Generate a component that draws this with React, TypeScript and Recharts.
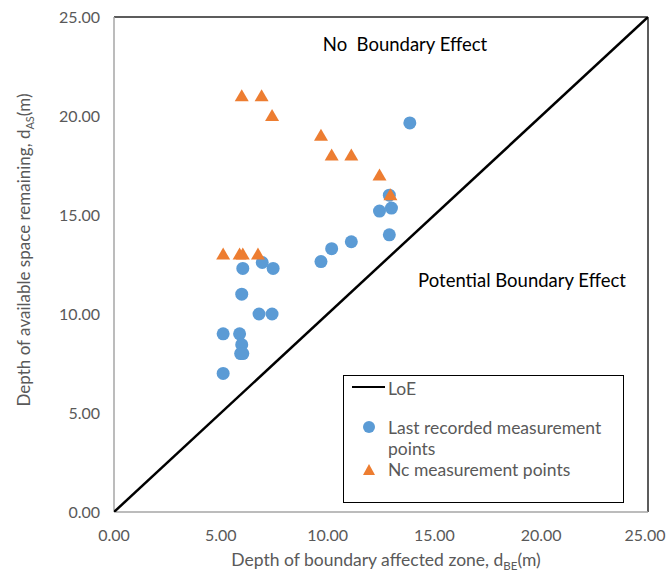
import React from 'react';
import { ScatterChart, Scatter, XAxis, YAxis, ReferenceLine, Legend } from 'recharts';

const loeX = [0, 25];
const loeY = [0, 25];

const lastX = [5.11, 5.11, 5.88, 5.98, 5.93, 6.03, 5.98, 6.79, 7.4, 6.03, 6.94, 7.45, 9.69, 10.19, 11.11, 12.89, 12.43, 12.99, 12.89, 13.85];
const lastY = [7.0, 9.0, 9.0, 8.45, 8.0, 8.0, 11.0, 10.0, 10.0, 12.3, 12.6, 12.3, 12.65, 13.3, 13.65, 14.0, 15.2, 15.35, 16.0, 19.65];

const ncX = [5.98, 6.91, 7.4, 9.69, 10.19, 11.11, 12.43, 12.94, 5.11, 5.88, 6.03, 6.74];
const ncY = [21.0, 21.0, 20.0, 19.0, 18.0, 18.0, 17.0, 16.0, 13.0, 13.0, 13.0, 13.0];

const axisTicks = [0, 5, 10, 15, 20, 25];

const loeData = loeX.map((x, i) => ({ x, y: loeY[i] }));
const lastData = lastX.map((x, i) => ({ x, y: lastY[i] }));
const ncData = ncX.map((x, i) => ({ x, y: ncY[i] }));

const FONT = 'Lato, "Liberation Sans", sans-serif';
const BLUE = '#5b9bd5';
const ORANGE = '#ed7d31';
const GREY = '#595959';

const Circle = (props: any) => {
  const { cx, cy } = props;
  if (cx == null || cy == null) return <g />;
  return <circle cx={cx} cy={cy} r={6.5} fill={BLUE} />;
};

const Triangle = (props: any) => {
  const { cx, cy } = props;
  if (cx == null || cy == null) return <g />;
  return <polygon points={`${cx},${cy - 7} ${cx + 7},${cy + 5} ${cx - 7},${cy + 5}`} fill={ORANGE} />;
};

const NoShape = () => <g />;

const XTick = (props: any) => {
  const { x, y, payload } = props;
  const cx = Math.min(x, 645);
  return (
    <text x={cx} y={y} dy="0.71em" textAnchor="middle" fill={GREY} fontFamily={FONT} fontSize={16}>
      {Number(payload.value).toFixed(2)}
    </text>
  );
};

const XTitle = (props: any) => {
  return (
    <text x={386} y={566} textAnchor="middle" fill={GREY} fontFamily={FONT} fontSize={17.5}>
      Depth of boundary affected zone, d
      <tspan fontSize={11.5} dy={4}>BE</tspan>
      <tspan dy={-4}>(m)</tspan>
    </text>
  );
};

const YTitle = (props: any) => {
  const cy = 250;
  const x = 30;
  return (
    <text x={x} y={cy} textAnchor="middle" fill={GREY} fontFamily={FONT} fontSize={17} transform={`rotate(-90 ${x} ${cy})`}>
      Depth of available space remaining, d
      <tspan fontSize={11} dy={4}>AS</tspan>
      <tspan dy={-4}>(m)</tspan>
    </text>
  );
};

const NoEffectLabel = (props: any) => {
  const vb = props.viewBox || {};
  return (
    <text x={vb.x + 291} y={vb.y} dy="0.35em" textAnchor="middle" fill="#000" fontFamily={FONT} fontSize={18.5} style={{ whiteSpace: 'pre' }}>
      {'No\u00a0 Boundary Effect'}
    </text>
  );
};

const PotentialLabel = (props: any) => {
  const vb = props.viewBox || {};
  return (
    <text x={vb.x + 408} y={vb.y} dy="0.35em" textAnchor="middle" fill="#000" fontFamily={FONT} fontSize={18.5}>
      Potential Boundary Effect
    </text>
  );
};

const LegendBox = () => (
  <div style={{ width: 281, height: 128, border: '1.5px solid #000', boxSizing: 'border-box', background: '#fff', position: 'relative' }}>
    <svg width={279} height={126} style={{ position: 'absolute', left: 0, top: 0 }}>
      <line x1={8} y1={11} x2={41} y2={11} stroke="#000" strokeWidth={2} />
      <text x={44} y={19} fill={GREY} fontFamily={FONT} fontSize={17.5}>LoE</text>
      <circle cx={25} cy={51} r={6} fill={BLUE} />
      <text x={44} y={58} fill={GREY} fontFamily={FONT} fontSize={17.5}>Last recorded measurement</text>
      <text x={44} y={79} fill={GREY} fontFamily={FONT} fontSize={17.5}>points</text>
      <polygon points="25,88 31,99 19,99" fill={ORANGE} />
      <text x={44} y={100} fill={GREY} fontFamily={FONT} fontSize={17.5}>Nc measurement points</text>
    </svg>
  </div>
);

export default function App() {
  return (
    <div style={{ position: 'absolute', left: 0, top: 0, background: '#fff' }}>
      <ScatterChart width={670} height={575} margin={{ top: 17, right: 22, bottom: 0, left: 10 }}>
        <XAxis
          type="number"
          dataKey="x"
          domain={[0, 25]}
          ticks={axisTicks}
          tickLine={false}
          tickSize={6}
          tickMargin={12}
          axisLine={{ stroke: '#a6a6a6', strokeWidth: 1.5 }}
          tick={<XTick />}
          height={63}
          allowDataOverflow
          label={<XTitle />}
        />
        <YAxis
          type="number"
          dataKey="y"
          domain={[0, 25]}
          ticks={axisTicks}
          tickFormatter={(v: number) => v.toFixed(2)}
          tickLine={false}
          tickSize={6}
          tickMargin={8}
          axisLine={{ stroke: '#a6a6a6', strokeWidth: 1.5 }}
          tick={{ fill: GREY, fontFamily: FONT, fontSize: 16 }}
          width={104}
          allowDataOverflow
          label={<YTitle />}
        />
        <ReferenceLine y={25} stroke="#262626" strokeWidth={1.5} />
        <ReferenceLine x={25} stroke="#262626" strokeWidth={1.5} />
        <Legend
          layout="horizontal"
          verticalAlign="middle"
          align="center"
          content={<LegendBox />}
          wrapperStyle={{ position: 'absolute', left: 343, top: 375, width: 281, height: 128 }}
        />
        <Scatter name="LoE" data={loeData} line={{ stroke: '#000', strokeWidth: 2.5 }} shape={<NoShape />} isAnimationActive={false} />
        <Scatter name="Last recorded measurement points" data={lastData} shape={<Circle />} isAnimationActive={false} />
        <Scatter name="Nc measurement points" data={ncData} shape={<Triangle />} isAnimationActive={false} />
        <ReferenceLine y={23.6} stroke="none" label={<NoEffectLabel />} />
        <ReferenceLine y={11.67} stroke="none" label={<PotentialLabel />} />
      </ScatterChart>
    </div>
  );
}
